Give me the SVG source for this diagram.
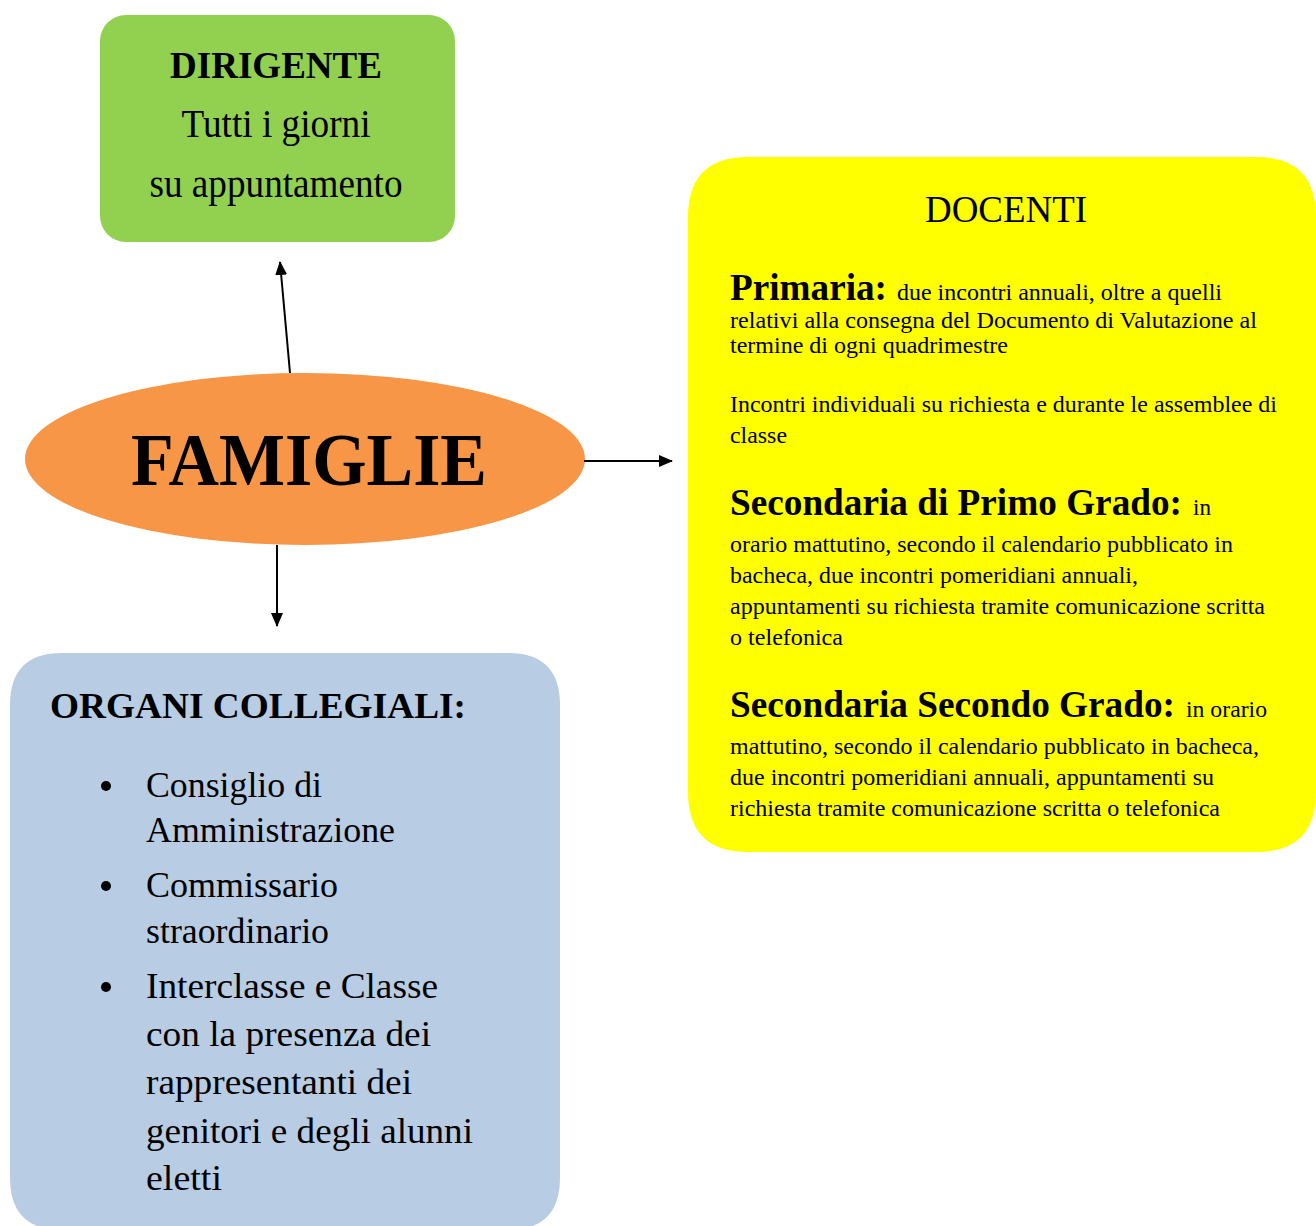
<svg xmlns="http://www.w3.org/2000/svg" width="1316" height="1226" viewBox="0 0 1316 1226">
<defs>
<style>
text{font-family:"Liberation Serif","Times New Roman",serif;fill:#000}
.b{font-weight:bold}
.h{font-weight:bold;font-size:38px}
.body{font-size:23px}
.org{font-size:35px}
.conn{stroke:#000;stroke-width:2;fill:none}
</style>
<marker id="ah" viewBox="0 0 14 12" refX="13" refY="6" markerWidth="14" markerHeight="12" orient="auto" markerUnits="userSpaceOnUse">
<path d="M0,0 L14,6 L0,12 z" fill="#000"/>
</marker>
</defs>
<rect width="1316" height="1226" fill="#fff"/>
<g id="dirigente">
<rect x="100" y="15" width="355" height="227" rx="26" fill="#92D050"/>
<text x="276" y="78" class="b" font-size="38" text-anchor="middle" textLength="212" lengthAdjust="spacingAndGlyphs">DIRIGENTE</text>
<text x="276" y="137" font-size="39" text-anchor="middle" textLength="189" lengthAdjust="spacingAndGlyphs">Tutti i giorni</text>
<text x="276" y="197" font-size="39" text-anchor="middle" textLength="253" lengthAdjust="spacingAndGlyphs">su appuntamento</text>
</g>
<g id="famiglie">
<ellipse cx="305" cy="459" rx="280" ry="86" fill="#F79646"/>
<text x="309" y="485" class="b" font-size="74" text-anchor="middle" textLength="356" lengthAdjust="spacingAndGlyphs">FAMIGLIE</text>
</g>
<g id="docenti">
<path d="M748,157 H1256 Q1316,157 1316,217 V792 Q1316,852 1256,852 H748 Q688,852 688,792 V217 Q688,157 748,157 Z" fill="#FFFF00"/>
<text x="1006" y="222" font-size="37" text-anchor="middle" textLength="162" lengthAdjust="spacingAndGlyphs">DOCENTI</text>
<text x="730" y="300" class="h" textLength="157" lengthAdjust="spacingAndGlyphs">Primaria:</text>
<text x="897" y="300" class="body" textLength="325" lengthAdjust="spacingAndGlyphs">due incontri annuali, oltre a quelli</text>
<text x="730" y="328" class="body" textLength="527" lengthAdjust="spacingAndGlyphs">relativi alla consegna del Documento di Valutazione al</text>
<text x="730" y="353" class="body" textLength="278" lengthAdjust="spacingAndGlyphs">termine di ogni quadrimestre</text>
<text x="730" y="412" class="body" textLength="547" lengthAdjust="spacingAndGlyphs">Incontri individuali su richiesta e durante le assemblee di</text>
<text x="730" y="443" class="body" textLength="57" lengthAdjust="spacingAndGlyphs">classe</text>
<text x="730" y="515" class="h" textLength="452" lengthAdjust="spacingAndGlyphs">Secondaria di Primo Grado:</text>
<text x="1193" y="515" class="body" textLength="18" lengthAdjust="spacingAndGlyphs">in</text>
<text x="730" y="552" class="body" textLength="503" lengthAdjust="spacingAndGlyphs">orario mattutino, secondo il calendario pubblicato in</text>
<text x="730" y="583" class="body" textLength="408" lengthAdjust="spacingAndGlyphs">bacheca, due incontri pomeridiani annuali,</text>
<text x="730" y="614" class="body" textLength="535" lengthAdjust="spacingAndGlyphs">appuntamenti su richiesta tramite comunicazione scritta</text>
<text x="730" y="645" class="body" textLength="113" lengthAdjust="spacingAndGlyphs">o telefonica</text>
<text x="730" y="717" class="h" textLength="445" lengthAdjust="spacingAndGlyphs">Secondaria Secondo Grado:</text>
<text x="1186" y="717" class="body" textLength="81" lengthAdjust="spacingAndGlyphs">in orario</text>
<text x="730" y="754" class="body" textLength="529" lengthAdjust="spacingAndGlyphs">mattutino, secondo il calendario pubblicato in bacheca,</text>
<text x="730" y="785" class="body" textLength="484" lengthAdjust="spacingAndGlyphs">due incontri pomeridiani annuali, appuntamenti su</text>
<text x="730" y="816" class="body" textLength="490" lengthAdjust="spacingAndGlyphs">richiesta tramite comunicazione scritta o telefonica</text>
</g>
<g id="organi">
<path d="M62,653 H508 Q560,653 560,705 V1178 Q560,1230 508,1230 H62 Q10,1230 10,1178 V705 Q10,653 62,653 Z" fill="#B8CCE4"/>
<text x="50" y="718" class="b" font-size="35" textLength="416" lengthAdjust="spacingAndGlyphs">ORGANI COLLEGIALI:</text>
<circle cx="106" cy="786" r="5" fill="#000"/>
<circle cx="106" cy="886" r="5" fill="#000"/>
<circle cx="106" cy="987" r="5" fill="#000"/>
<text x="146" y="797" class="org" textLength="176" lengthAdjust="spacingAndGlyphs">Consiglio di</text>
<text x="146" y="842" class="org" textLength="249" lengthAdjust="spacingAndGlyphs">Amministrazione</text>
<text x="146" y="897" class="org" textLength="192" lengthAdjust="spacingAndGlyphs">Commissario</text>
<text x="146" y="943" class="org" textLength="183" lengthAdjust="spacingAndGlyphs">straordinario</text>
<text x="146" y="998" class="org" textLength="292" lengthAdjust="spacingAndGlyphs">Interclasse e Classe</text>
<text x="146" y="1046" class="org" textLength="285" lengthAdjust="spacingAndGlyphs">con la presenza dei</text>
<text x="146" y="1094" class="org" textLength="266" lengthAdjust="spacingAndGlyphs">rappresentanti dei</text>
<text x="146" y="1143" class="org" textLength="327" lengthAdjust="spacingAndGlyphs">genitori e degli alunni</text>
<text x="146" y="1190" class="org" textLength="76" lengthAdjust="spacingAndGlyphs">eletti</text>
</g>
<g id="connectors">
<line class="conn" x1="290" y1="373" x2="280" y2="262" marker-end="url(#ah)"/>
<line class="conn" x1="584" y1="461" x2="672" y2="461" marker-end="url(#ah)"/>
<line class="conn" x1="277" y1="545" x2="277" y2="626" marker-end="url(#ah)"/>
</g>
</svg>
